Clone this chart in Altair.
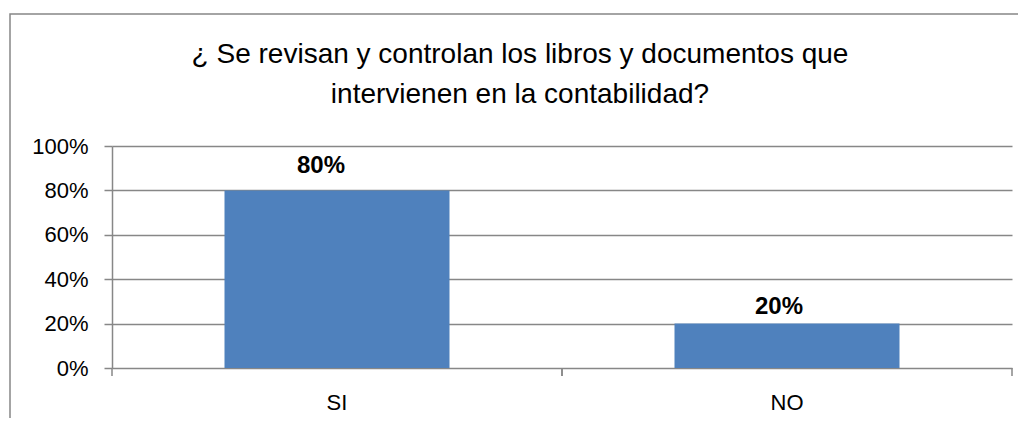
import altair as alt
import pandas as pd

categories = ["SI", "NO"]
values = [0.80, 0.20]
labels = ["80%", "20%"]
title_lines = ["¿ Se revisan y controlan los libros y documentos que",
               "intervienen en la contabilidad?"]
y_ticks = [0, 0.2, 0.4, 0.6, 0.8, 1.0]

df = pd.DataFrame({"cat": categories, "val": values, "label": labels})

FONT = "Liberation Sans"
GRAY = "#878787"
BLUE = "#4F81BD"

x_scale = alt.Scale(paddingInner=0, paddingOuter=0)

x_enc = alt.X(
    "cat:N", sort=categories, scale=x_scale,
    axis=alt.Axis(title=None, labelAngle=0, ticks=False, domain=False,
                  labelFontSize=22, labelFont=FONT, labelColor="black",
                  labelPadding=24, grid=False),
)
y_enc = alt.Y(
    "val:Q", scale=alt.Scale(domain=[0, 1], nice=False),
    axis=alt.Axis(title=None, format=".0%", values=y_ticks, grid=True,
                  gridColor=GRAY, gridWidth=1.5, domainColor=GRAY,
                  domainWidth=1.5, tickColor=GRAY, tickWidth=1.5, tickSize=8,
                  labelFontSize=22, labelFont=FONT, labelColor="black",
                  labelPadding=16),
)

base = alt.Chart(df)

bars = base.mark_bar(color=BLUE, width=alt.RelativeBandSize(0.5)).encode(
    x=x_enc, y=y_enc
)

lbl_si = base.transform_filter(alt.datum.cat == "SI").mark_text(
    font=FONT, fontSize=24, fontWeight="bold", color="black",
    baseline="alphabetic", dx=-16, dy=-17,
).encode(x=alt.X("cat:N", sort=categories), y=alt.Y("val:Q"), text="label:N")

lbl_no = base.transform_filter(alt.datum.cat == "NO").mark_text(
    font=FONT, fontSize=24, fontWeight="bold", color="black",
    baseline="alphabetic", dx=-8, dy=-10,
).encode(x=alt.X("cat:N", sort=categories), y=alt.Y("val:Q"), text="label:N")

tick_start = base.mark_rule(color=GRAY, strokeWidth=1.5).encode(
    x=alt.X("cat:N", sort=categories, bandPosition=0),
    y=alt.value(222), y2=alt.value(230),
)
tick_end = base.mark_rule(color=GRAY, strokeWidth=1.5).encode(
    x=alt.X("cat:N", sort=categories, bandPosition=1),
    y=alt.value(222), y2=alt.value(230),
)

frame = alt.Chart(pd.DataFrame({"a": [0]})).mark_rect(
    fillOpacity=0, stroke=GRAY, strokeWidth=1.5
).encode(
    x=alt.value(-102), x2=alt.value(960), y=alt.value(-132), y2=alt.value(340)
)

chart = alt.layer(frame, bars, lbl_si, lbl_no, tick_start, tick_end).properties(
    width=900,
    height=222,
    autosize="none",
    padding={"left": 104, "top": 138, "right": 6, "bottom": 50},
    title=alt.TitleParams(
        text=title_lines, fontSize=28, font=FONT, fontWeight="normal",
        color="black", anchor="middle", dx=-42, lineHeight=40, offset=-96,
    ),
).configure_view(stroke=None)

chart.save("out.html", embed_options={"renderer": "svg", "actions": False})
